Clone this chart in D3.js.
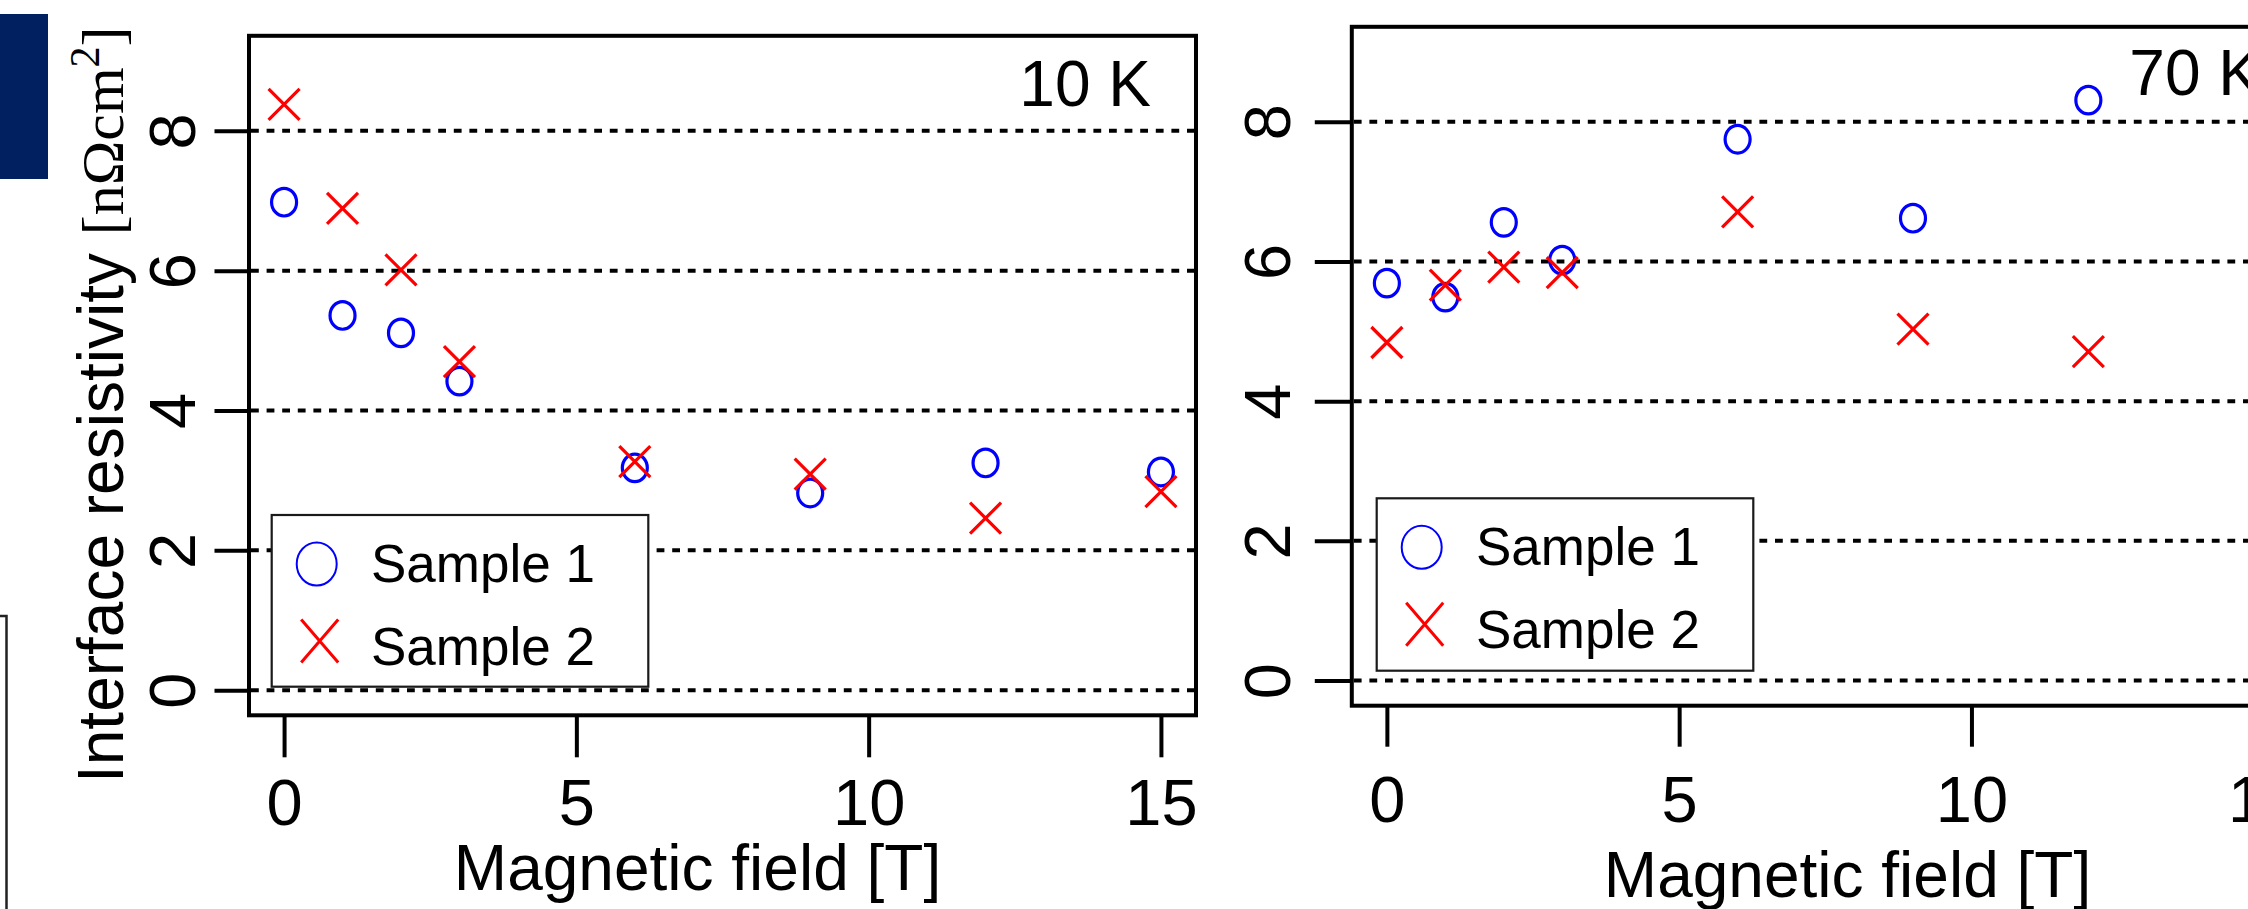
<!DOCTYPE html>
<html><head><meta charset="utf-8">
<script src="https://cdn.jsdelivr.net/npm/d3@7"></script>
<style>html,body{margin:0;padding:0;background:#fff;overflow:hidden}</style>
</head><body><svg id="c" width="2248" height="909"></svg>
<script>
// ---------------- data ----------------
const xTickValues = [0, 5, 10, 15];
const yTickValues = [0, 2, 4, 6, 8];
const seriesNames = ["Sample 1", "Sample 2"];
const xTitle = "Magnetic field [T]";

const field10K   = [0, 1, 2, 3, 6, 9, 12, 15];
const sample1_10K = [6.98, 5.36, 5.11, 4.42, 3.18, 2.82, 3.25, 3.12];
const sample2_10K = [8.38, 6.89, 6.01, 4.70, 3.27, 3.09, 2.46, 2.84];

const field70K   = [0, 1, 2, 3, 6, 9, 12];
const sample1_70K = [5.69, 5.49, 6.56, 6.02, 7.75, 6.62, 8.31];
const sample2_70K = [4.84, 5.66, 5.92, 5.84, 6.71, 5.03, 4.71];

const panelLabels = ["10 K", "70 K"];

// ---------------- layout ----------------
const FONT = "'Liberation Sans', Arial, Helvetica, sans-serif";
const SERIF = "'Liberation Serif', 'Times New Roman', serif";
const BLUE = "#0000ff", RED = "#ff0000";

const svg = d3.select("#c");
svg.append("rect").attr("width", 2248).attr("height", 909).attr("fill", "#fff");

// decorations outside the plots
svg.append("rect").attr("x", 0).attr("y", 14).attr("width", 48).attr("height", 165).attr("fill", "#002060");
svg.append("path").attr("d", "M0,616 H6.5 V909").attr("fill", "none").attr("stroke", "#222").attr("stroke-width", 2.5);

const panels = [
  { left: 249, right: 1196, top: 35.8, bottom: 715.3, label: panelLabels[0], labelX: 1151, labelY: 106,
    field: field10K, s1: sample1_10K, s2: sample2_10K,
    yTickLen: 34.5, yLabelX: 195, xTickLen: 42, xLabelY: 825,
    xTitleX: 697.5, xTitleY: 890,
    legend: { x: 271.7, y: 515, w: 376.6, h: 171.7 }, yTitle: true },
  { left: 1351.8, right: 2298.8, top: 26.8, bottom: 705.7, label: panelLabels[1], labelX: 2261, labelY: 95,
    field: field70K, s1: sample1_70K, s2: sample2_70K,
    yTickLen: 37, yLabelX: 1290, xTickLen: 41, xLabelY: 822,
    xTitleX: 1847.5, xTitleY: 897,
    legend: { x: 1376.7, y: 498.3, w: 376.6, h: 172.4 }, yTitle: false }
];

function xMarker(sel, cx, cy, hx, hy, sw) {
  sel.append("path")
    .attr("d", `M${cx - hx},${cy - hy}L${cx + hx},${cy + hy}M${cx - hx},${cy + hy}L${cx + hx},${cy - hy}`)
    .attr("stroke", RED).attr("stroke-width", sw).attr("fill", "none");
}

panels.forEach(p => {
  const x = d3.scaleLinear().domain([-0.6, 15.6]).range([p.left, p.right]);
  const y = d3.scaleLinear().domain([-0.36, 9.36]).range([p.bottom, p.top]);
  const g = svg.append("g");

  // dotted grid lines
  g.selectAll("line.grid").data(yTickValues).join("line")
    .attr("class", "grid")
    .attr("x1", p.left + 2).attr("x2", p.right)
    .attr("y1", d => y(d)).attr("y2", d => y(d))
    .attr("stroke", "#000").attr("stroke-width", 4).attr("stroke-dasharray", "7.8,7.8");

  // x axis
  const xa = g.append("g").attr("transform", `translate(0,${p.bottom})`)
    .call(d3.axisBottom(x).tickValues(xTickValues).tickSize(p.xTickLen).tickFormat(d3.format("d")));
  xa.select(".domain").remove();
  xa.selectAll(".tick line").attr("stroke", "#000").attr("stroke-width", 4);
  xa.selectAll(".tick text")
    .attr("y", p.xLabelY - p.bottom).attr("dy", 0)
    .attr("font-family", FONT).attr("font-size", 65).attr("fill", "#000")
    .attr("text-anchor", "middle");

  // y axis
  const ya = g.append("g").attr("transform", `translate(${p.left},0)`)
    .call(d3.axisLeft(y).tickValues(yTickValues).tickSize(p.yTickLen).tickFormat(d3.format("d")));
  ya.select(".domain").remove();
  ya.selectAll(".tick line").attr("stroke", "#000").attr("stroke-width", 4);
  ya.selectAll(".tick text")
    .attr("x", 0).attr("dy", 0)
    .attr("transform", `translate(${p.yLabelX - p.left},0) rotate(-90)`)
    .attr("font-family", FONT).attr("font-size", 65).attr("fill", "#000")
    .attr("text-anchor", "middle");

  // box
  g.append("rect").attr("x", p.left).attr("y", p.top)
    .attr("width", p.right - p.left).attr("height", p.bottom - p.top)
    .attr("fill", "none").attr("stroke", "#000").attr("stroke-width", 4);

  // panel label
  g.append("text").attr("x", p.labelX).attr("y", p.labelY)
    .attr("text-anchor", "end").attr("font-family", FONT).attr("font-size", 64)
    .text(p.label);

  // points: sample 1 circles
  g.selectAll("ellipse.s1").data(p.field.map((f, i) => [f, p.s1[i]])).join("ellipse")
    .attr("class", "s1")
    .attr("cx", d => x(d[0])).attr("cy", d => y(d[1]))
    .attr("rx", 12.5).attr("ry", 13.8)
    .attr("fill", "none").attr("stroke", BLUE).attr("stroke-width", 3.2);
  // sample 2 crosses
  p.field.forEach((f, i) => xMarker(g, x(f), y(p.s2[i]), 15.5, 15.5, 3.2));

  // legend
  const L = p.legend;
  const lg = g.append("g");
  lg.append("rect").attr("x", L.x).attr("y", L.y).attr("width", L.w).attr("height", L.h)
    .attr("fill", "#fff").attr("stroke", "#1a1a1a").attr("stroke-width", 2.2);
  lg.append("ellipse").attr("cx", L.x + 45).attr("cy", L.y + 49).attr("rx", 20).attr("ry", 21.5)
    .attr("fill", "none").attr("stroke", BLUE).attr("stroke-width", 2);
  xMarker(lg, L.x + 48, L.y + 126, 18.5, 21.5, 3);
  lg.selectAll("text").data(seriesNames).join("text")
    .attr("x", L.x + 99.3).attr("y", (d, i) => L.y + 66.7 + i * 83.3)
    .attr("font-family", FONT).attr("font-size", 53).attr("fill", "#000")
    .text(d => d);

  // x title
  g.append("text").attr("x", p.xTitleX).attr("y", p.xTitleY)
    .attr("text-anchor", "middle").attr("font-family", FONT).attr("font-size", 64)
    .text(xTitle);

  // y title
  if (p.yTitle) {
    const t = g.append("text").attr("transform", "translate(123,783) rotate(-90)")
      .attr("font-family", FONT).attr("font-size", 64).attr("fill", "#000");
    t.append("tspan").text("Interface resistivity ");
    t.append("tspan").attr("font-family", SERIF).attr("font-size", 60).text("[nΩcm");
    t.append("tspan").attr("font-family", SERIF).attr("font-size", 42).attr("dy", -24).text("2");
    t.append("tspan").attr("font-family", SERIF).attr("font-size", 60).attr("dy", 24).text("]");
  }
});
</script></body></html>
